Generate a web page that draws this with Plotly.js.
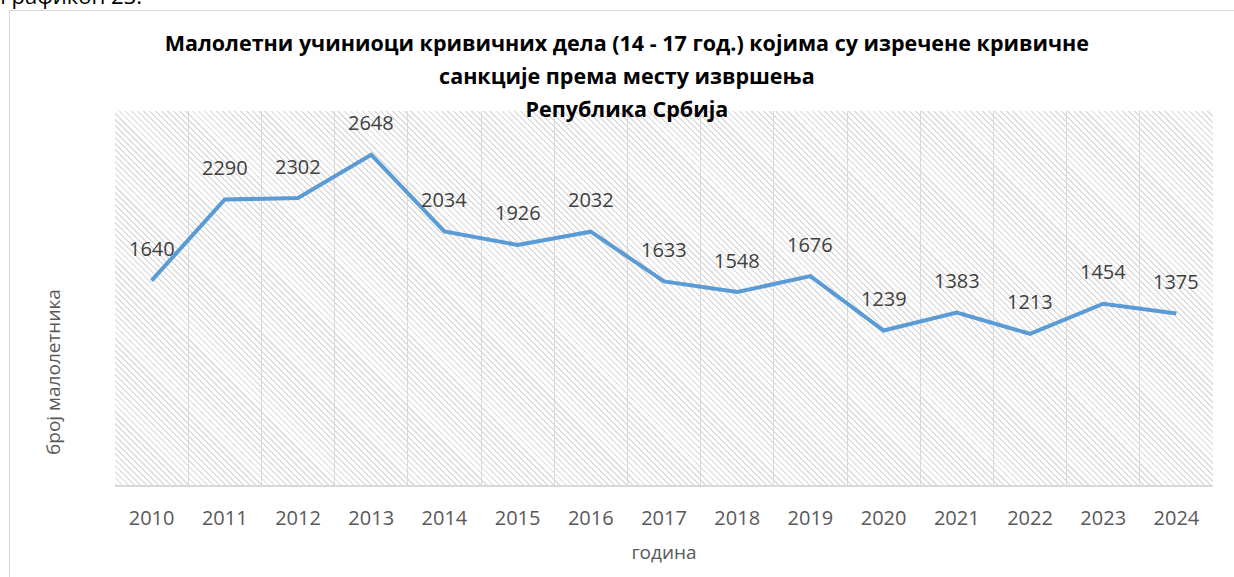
<!DOCTYPE html>
<html>
<head>
<meta charset="utf-8">
<script src="https://cdn.plot.ly/plotly-3.0.1.min.js"></script>
<style>
  html, body { margin: 0; padding: 0; background: #ffffff; overflow: hidden; width: 1234px; height: 577px; }
  #frame { position: absolute; left: 9px; top: 10px; width: 1300px; height: 700px; border: 1px solid #d9d9d9; }
  #hatch { position: absolute; left: 115px; top: 111px; width: 1098px; height: 374px;
    background: repeating-linear-gradient(45deg, #dddddd 0px, #dddddd 1.1px, rgba(255,255,255,0) 1.6px, rgba(255,255,255,0) 4.3px); }
  #chart { position: absolute; left: 0; top: 0; width: 1234px; height: 577px; }
</style>
</head>
<body>
<div id="frame"></div>
<div id="hatch"></div>
<div id="chart"></div>
<script>
const years = ['2010','2011','2012','2013','2014','2015','2016','2017','2018','2019','2020','2021','2022','2023','2024'];
const juveniles = [1640, 2290, 2302, 2648, 2034, 1926, 2032, 1633, 1548, 1676, 1239, 1383, 1213, 1454, 1375];
const titleLines = [
  'Малолетни учиниоци кривичних дела (14 - 17 год.) којима су изречене кривичне',
  'санкције према месту извршења',
  'Република Србија'
];
const xTitle = 'година';
const yTitle = 'број малолетника';
const caption = 'Графикон 23.';

const FONT = '"Open Sans", "Noto Sans", "DejaVu Sans", sans-serif';

// category axis positions are the indices of the years
const labelAnnotations = years.map((yr, i) => ({
  x: i, y: juveniles[i], xref: 'x', yref: 'y',
  text: String(juveniles[i]), showarrow: false,
  yshift: 32, yanchor: 'middle', xanchor: 'center',
  font: { family: FONT, size: 20, color: '#404040' }
}));

const trace = {
  type: 'scatter', mode: 'lines',
  x: years, y: juveniles,
  line: { color: '#5B9BD5', width: 4, shape: 'linear' },
  hoverinfo: 'x+y'
};

const layout = {
  width: 1234, height: 577,
  margin: { l: 115, r: 21, t: 111, b: 92, pad: 0 },
  paper_bgcolor: 'rgba(0,0,0,0)',
  plot_bgcolor: 'rgba(0,0,0,0)',
  showlegend: false,
  title: {
    text: titleLines.map(t => '<span style="font-size:21.5px">' + t + '</span>').join('<br>'),
    font: { family: FONT, size: 25.5, color: '#000000', weight: 'bold' },
    x: 0.508, xref: 'container', xanchor: 'center',
    y: 1 - 51/577, yref: 'container', yanchor: 'top'
  },
  xaxis: {
    type: 'category',
    categoryorder: 'array', categoryarray: years,
    range: [-0.5, years.length - 0.5], autorange: false,
    tickson: 'boundaries',
    showgrid: true, gridcolor: '#d9d9d9', gridwidth: 1,
    showline: true, linecolor: '#d9d9d9', linewidth: 1.5,
    ticks: '', ticklabelstandoff: 14,
    tickfont: { family: FONT, size: 20, color: '#595959' },
    title: { text: xTitle, font: { family: FONT, size: 19, color: '#595959' }, standoff: 16 },
    fixedrange: true
  },
  yaxis: {
    range: [0, 3000], autorange: false,
    showgrid: false, zeroline: false, showline: false,
    showticklabels: false, ticks: '',
    fixedrange: true
  },
  annotations: labelAnnotations.concat([
    {
      xref: 'paper', yref: 'paper',
      x: (53 - 115) / 1098, y: (485 - 372) / 374,
      text: yTitle, textangle: -90, showarrow: false,
      xanchor: 'center', yanchor: 'middle',
      font: { family: FONT, size: 19, color: '#595959' }
    },
    {
      xref: 'paper', yref: 'paper',
      x: (-2 - 115) / 1098, y: (485 - 12) / 374,
      text: caption, showarrow: false,
      xanchor: 'left', yanchor: 'bottom',
      font: { family: FONT, size: 22, color: '#000000' }
    }
  ])
};

Plotly.newPlot('chart', [trace], layout, { displayModeBar: false, responsive: false });
</script>
</body>
</html>
